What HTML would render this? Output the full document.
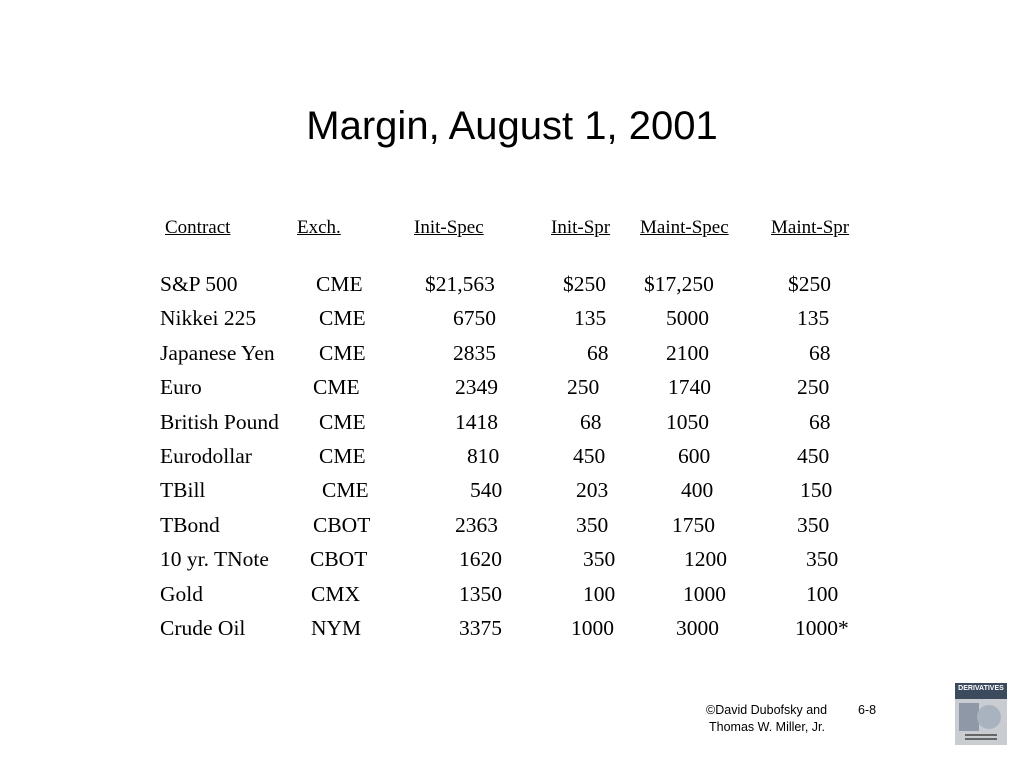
<!DOCTYPE html>
<html><head><meta charset="utf-8"><style>
body{margin:0;width:1024px;height:768px;background:#fff;position:relative;overflow:hidden;font-family:"Liberation Serif",serif;color:#000}
.t{position:absolute;white-space:nowrap;line-height:26px;font-size:21.5px}
.h{position:absolute;white-space:nowrap;line-height:22px;font-size:19px;text-decoration:underline}
#title{position:absolute;left:0;width:1024px;top:102px;text-align:center;font-family:"Liberation Sans",sans-serif;font-size:40px;line-height:48px}
.f{position:absolute;font-family:"Liberation Sans",sans-serif;font-size:12.5px;line-height:16px;white-space:nowrap}
</style></head><body>
<div id="title">Margin, August 1, 2001</div>
<div id="tbl"></div>
<div class="f" style="left:706px;top:702px">©David Dubofsky and</div>
<div class="f" style="left:858px;top:702px">6-8</div>
<div class="f" style="left:709px;top:719px">Thomas W. Miller, Jr.</div>
<div style="position:absolute;left:955px;top:683px;width:52px;height:62px;background:#c9ccd0;overflow:hidden">
 <div style="height:16px;background:#3c4a5e;color:#fff;font-family:'Liberation Sans',sans-serif;font-size:7px;font-weight:bold;text-align:center;line-height:12px">DERIVATIVES</div>
 <div style="position:absolute;left:4px;top:20px;width:20px;height:28px;background:#8e98a6"></div>
 <div style="position:absolute;left:22px;top:22px;width:24px;height:24px;border-radius:50%;background:#a9b3bf"></div>
 <div style="position:absolute;left:10px;top:51px;width:32px;height:2px;background:#666"></div>
 <div style="position:absolute;left:10px;top:55px;width:32px;height:2px;background:#666"></div>
</div>
<script>
const headers=["Contract","Exch.","Init-Spec","Init-Spr","Maint-Spec","Maint-Spr"];
const headerX=[165,297,414,551,640,771];
const rows=[
["S&P 500","CME","$21,563","$250","$17,250","$250"],
["Nikkei 225","CME","6750","135","5000","135"],
["Japanese Yen","CME","2835","68","2100","68"],
["Euro","CME","2349","250","1740","250"],
["British Pound","CME","1418","68","1050","68"],
["Eurodollar","CME","810","450","600","450"],
["TBill","CME","540","203","400","150"],
["TBond","CBOT","2363","350","1750","350"],
["10 yr. TNote","CBOT","1620","350","1200","350"],
["Gold","CMX","1350","100","1000","100"],
["Crude Oil","NYM","3375","1000","3000","1000*"]];
const cellX=[
[160,316,425,563,644,788],[160,319,453,574,666,797],[160,319,453,587,666,809],
[160,313,455,567,668,797],[160,319,455,580,666,809],[160,319,467,573,678,797],
[160,322,470,576,681,800],[160,313,455,576,672,797],[160,310,459,583,684,806],
[160,311,459,583,683,806],[160,311,459,571,676,795]];
const tbl=document.getElementById('tbl');
headers.forEach((h,i)=>{
 const d=document.createElement('div');d.className='h';d.textContent=h;
 d.style.left=headerX[i]+'px';d.style.top='217px';
 
 
 tbl.appendChild(d);
});
rows.forEach((r,ri)=>{
 r.forEach((c,ci)=>{
  const d=document.createElement('div');d.className='t';d.textContent=c;
  d.style.left=cellX[ri][ci]+'px';d.style.top=(271+ri*34.4)+'px';
  
  
  tbl.appendChild(d);
 });
});
</script>
</body></html>
